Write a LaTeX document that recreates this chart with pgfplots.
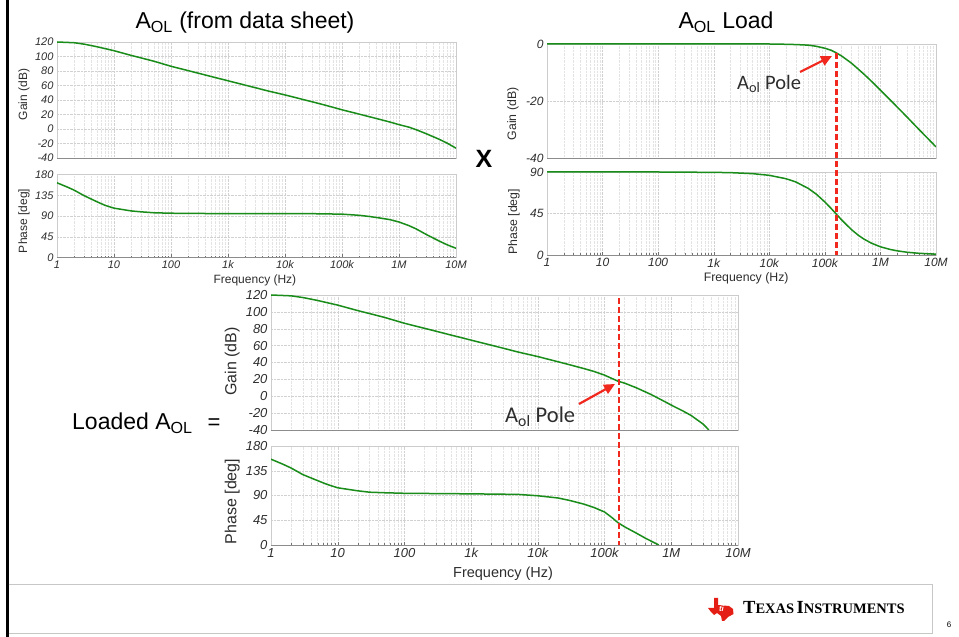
\documentclass[border=0pt]{standalone}
\usepackage{pgfplots}
\pgfplotsset{compat=1.18}
\usepackage{fontspec}
\setmainfont{Liberation Sans}
\newfontfamily\calib{Carlito}
\newfontfamily\tiserif{Liberation Serif}
\usetikzlibrary{arrows.meta}
\definecolor{bodegreen}{RGB}{25,140,25}
\definecolor{polered}{RGB}{240,40,30}
\definecolor{tired}{RGB}{228,30,20}
\definecolor{lbl}{RGB}{45,45,45}

\tikzset{curve/.style={draw=bodegreen, line width=1.5pt, mark=none, line join=round}}

\pgfplotsset{
  bode/.style={
    scale only axis, xmin=1, xmax=1e7,
    axis line style={black!20},
    grid=both,
    major grid style={black!18, densely dotted},
    minor grid style={black!11, densely dotted},
    xtick={1,10,100,1000,10000,100000,1000000,10000000},
    ytick style={draw=none},
    tick style={black!55},
    tick label style={text=lbl},
    label style={text=lbl},
    after end axis/.code={\draw[black!45, line width=0.6pt] (rel axis cs:0,0) -- (rel axis cs:1,0);},
  },
  gainax/.style={xticklabels={}, major tick length=0pt, minor tick length=0pt},
  phaseax/.style={xticklabels={1,10,100,1k,10k,100k,1M,10M}, xtick pos=left, major tick length=3pt, minor tick length=1.8pt},
  small fonts/.style={
    tick label style={font=\fontsize{11}{11}\selectfont\itshape},
    label style={font=\fontsize{12}{12}\selectfont}},
  mid fonts/.style={
    tick label style={font=\fontsize{12}{12}\selectfont\itshape},
    label style={font=\fontsize{12.3}{12.3}\selectfont}},
  big fonts/.style={
    tick label style={font=\fontsize{13}{13}\selectfont\itshape},
    ylabel style={font=\fontsize{16}{16}\selectfont},
    xlabel style={font=\fontsize{14.5}{14.5}\selectfont}},
}

\begin{document}
\begin{tikzpicture}[x=1pt,y=1pt]
\useasboundingbox (0,0) rectangle (959,637);

% ---------- top left: A_OL from data sheet ----------
\begin{semilogxaxis}[bode, gainax, small fonts, at={(57pt,479pt)}, anchor=south west,
  width=399pt, height=116pt, ymin=-40, ymax=120,
  ytick={-40,-20,0,20,40,60,80,100,120},
  yticklabels={-40,-20,0,20,40,60,80,100,120},
  ylabel={Gain (dB)}, ylabel style={at={(axis description cs:-0.0827,0.548)}, anchor=center}]
\addplot[curve] coordinates {(1,120) (2,119) (3,117) (5,113.5) (10,108) (20,101.5) (30,98) (50,93.5)
 (100,86.5) (200,80.5) (300,77) (500,72.5) (1000,66.5) (2000,60.5) (3000,57) (5000,52.5)
 (10000,47) (20000,41) (30000,37.5) (50000,33) (100000,26.5) (200000,20.5) (300000,17)
 (500000,12.5) (700000,9.5) (1000000,6) (1500000,2.5) (2000000,-1) (3000000,-6.5)
 (5000000,-14) (7000000,-19.5) (10000000,-26.5)};
\end{semilogxaxis}

\begin{semilogxaxis}[bode, phaseax, small fonts, at={(57pt,379.5pt)}, anchor=south west,
  width=399pt, height=83pt, ymin=0, ymax=180,
  ytick={0,45,90,135,180}, yticklabels={0,45,90,135,180},
  ylabel={Phase [deg]}, ylabel style={at={(axis description cs:-0.0827,0.44)}, anchor=center},
  xlabel={Frequency (Hz)}, xlabel style={at={(axis description cs:0.496,-0.28)}, anchor=center}]
\addplot[curve] coordinates {(1,162) (1.5,153) (2,146) (3,134) (5,121) (7,113) (10,107) (20,101)
 (30,99) (50,97) (100,96) (1000,95) (10000,95) (30000,95) (100000,94) (200000,91.5)
 (300000,89) (500000,85) (700000,82) (1000000,77) (1500000,69) (2000000,62) (3000000,50)
 (5000000,36) (7000000,27.5) (10000000,20)};
\end{semilogxaxis}

% ---------- top right: A_OL load ----------
\begin{semilogxaxis}[bode, gainax, mid fonts, at={(547pt,479pt)}, anchor=south west,
  width=389pt, height=114pt, ymin=-40, ymax=0,
  ytick={-40,-20,0}, yticklabels={-40,-20,0},
  ylabel={Gain (dB)}, ylabel style={at={(axis description cs:-0.0874,0.386)}, anchor=center}]
\addplot[curve] coordinates {(1,0) (1000,0) (10000,0) (20000,-0.1) (30000,-0.2) (50000,-0.4) (70000,-0.8)
 (100000,-1.5) (130000,-2.2) (157000,-3) (200000,-4.2) (300000,-6.7) (500000,-10.5) (700000,-13.2)
 (1000000,-16.2) (2000000,-22.1) (3000000,-25.6) (5000000,-30.1) (7000000,-33) (10000000,-36.1)};
\coordinate (rt) at (axis cs:160000,-3.2);
\end{semilogxaxis}

\begin{semilogxaxis}[bode, phaseax, mid fonts, at={(547pt,382pt)}, anchor=south west,
  width=389pt, height=83pt, ymin=0, ymax=90,
  ytick={0,45,90}, yticklabels={0,45,90},
  ylabel={Phase [deg]}, ylabel style={at={(axis description cs:-0.085,0.40)}, anchor=center},
  xlabel={Frequency (Hz)}, xlabel style={at={(axis description cs:0.512,-0.277)}, anchor=center}]
\addplot[curve] coordinates {(1,90) (100,90) (1000,89.6) (2000,89.3) (5000,88.2) (10000,86.4) (20000,82.7)
 (30000,79.2) (50000,72.3) (70000,66) (100000,57.5) (130000,50.4) (157000,45) (200000,38.1)
 (300000,27.6) (400000,21.4) (500000,17.4) (700000,12.6) (1000000,8.9) (1500000,6) (2000000,4.5)
 (3000000,3) (5000000,1.8) (10000000,0.9)};
\coordinate (rb) at (axis cs:160000,0);
\end{semilogxaxis}

% ---------- bottom: loaded A_OL ----------
\begin{semilogxaxis}[bode, gainax, big fonts, at={(271pt,207pt)}, anchor=south west,
  width=467pt, height=135pt, ymin=-40, ymax=120,
  ytick={-40,-20,0,20,40,60,80,100,120},
  yticklabels={-40,-20,0,20,40,60,80,100,120},
  ylabel={Gain (dB)}, ylabel style={at={(axis description cs:-0.083,0.507)}, anchor=center}]
\addplot[curve] coordinates {(1,120) (2,119) (3,117) (5,113.5) (10,108) (20,101.5) (30,98) (50,93.5)
 (100,86.5) (200,80.5) (300,77) (500,72.5) (1000,66.5) (2000,60.5) (3000,57) (5000,52.5)
 (10000,47) (20000,40.9) (30000,37.3) (50000,32.6) (70000,29.3) (100000,25) (157000,18)
 (200000,15.5) (300000,10) (500000,2) (700000,-4) (1000000,-10.5) (1500000,-17.5)
 (2000000,-23) (3000000,-33) (3660000,-40)};
\coordinate (bt) at (axis cs:165000,116);
\end{semilogxaxis}

\begin{semilogxaxis}[bode, phaseax, big fonts, at={(271pt,92pt)}, anchor=south west,
  width=467pt, height=99pt, ymin=0, ymax=180,
  ytick={0,45,90,135,180}, yticklabels={0,45,90,135,180},
  ylabel={Phase [deg]}, ylabel style={at={(axis description cs:-0.083,0.44)}, anchor=center},
  xlabel={Frequency (Hz)}, xlabel style={at={(axis description cs:0.497,-0.286)}, anchor=center}]
\addplot[curve] coordinates {(1,156) (1.5,147) (2,140) (3,128) (5,117) (7,110) (10,104) (20,98.5)
 (30,96) (50,95) (100,94) (1000,93) (5000,92) (10000,89.5) (20000,85.5) (30000,81) (50000,74)
 (70000,68) (100000,60) (130000,49.5) (157000,41) (200000,33) (300000,21.5) (400000,13)
 (500000,7) (650000,0)};
\coordinate (bb) at (axis cs:165000,0);
\end{semilogxaxis}

% ---------- pole markers ----------
\draw[polered, line width=2.8pt, dash pattern=on 6pt off 3pt] (rt) -- (rb);
\draw[polered, line width=2.8pt, dash pattern=on 6pt off 3pt] (bt) -- (bb);
\draw[polered, line width=2.2pt, -{Triangle[length=11pt,width=10pt]}] (800,565) -- (832,581);
\draw[polered, line width=2.2pt, -{Triangle[length=11pt,width=10pt]}] (579,233) -- (615,253);
\node[anchor=base west, inner sep=0pt, font=\calib\fontsize{20.5}{20}\selectfont, text=lbl] at (737,547.7) {A\textsubscript{ol} Pole};
\node[anchor=base west, inner sep=0pt, font=\calib\fontsize{22.5}{22}\selectfont, text=lbl] at (505,214.3) {A\textsubscript{ol} Pole};

% ---------- titles and operators ----------
\node[anchor=base, inner sep=0pt, font=\fontsize{23}{23}\selectfont] at (245,608) {A\textsubscript{OL} (from data sheet)};
\node[anchor=base, inner sep=0pt, font=\fontsize{23}{23}\selectfont] at (726,608) {A\textsubscript{OL} Load};
\node[font=\fontsize{25}{25}\selectfont\bfseries] at (484,478) {X};
\node[anchor=base west, inner sep=0pt, font=\fontsize{23}{23}\selectfont] at (72,207) {Loaded A\textsubscript{OL}};
\node[anchor=base, inner sep=0pt, font=\fontsize{22}{22}\selectfont] at (214,207) {=};

% ---------- slide frame and footer ----------
\fill[black] (5.5,0) rectangle (8.5,637);
\draw[black!22, line width=0.8pt] (8.5,53) -- (932,53) -- (932,4) -- (8.5,4);
\fill[tired] (714,39) -- (718,39) -- (718,32) -- (729,31) -- (733,28) -- (733.5,23) -- (728,20)
  -- (724,16) -- (722,16) -- (721,21) -- (717,24) -- (714,22) -- (711,25) -- (708,29) -- (714,29) -- cycle;
\node[text=white, font=\fontsize{8}{8}\selectfont\bfseries\itshape] at (721.5,28) {ti};
\node[anchor=west, inner sep=0pt, font=\tiserif\bfseries] at (743,29)
  {{\fontsize{18.5}{18}\selectfont T}{\fontsize{14.5}{14}\selectfont EXAS} {\fontsize{18.5}{18}\selectfont I}{\fontsize{14.5}{14}\selectfont NSTRUMENTS}};
\node[font=\fontsize{8}{8}\selectfont] at (949,12) {6};
\end{tikzpicture}
\end{document}
